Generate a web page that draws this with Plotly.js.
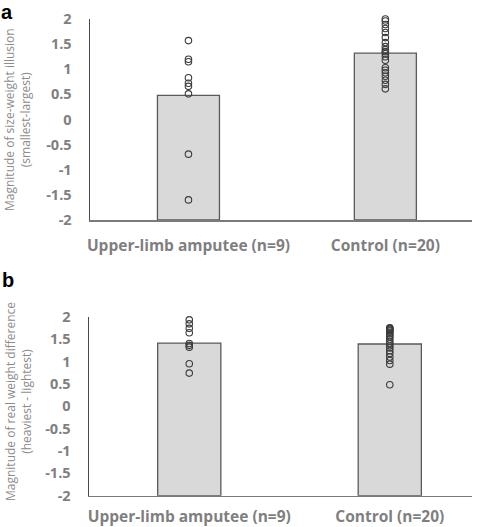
<!DOCTYPE html>
<html>
<head>
<meta charset="utf-8">
<script src="https://cdn.plot.ly/plotly-3.0.1.min.js"></script>
<style>
  html, body { margin: 0; padding: 0; background: #fff; }
  #chart { width: 479px; height: 527px; }
</style>
</head>
<body>
<div id="chart"></div>
<script>
// Groups shown on both panels
const groups = ["Upper-limb amputee (n=9)", "Control (n=20)"];

// Panel a: size-weight illusion (smallest - largest)
const illusionMeans = [0.48, 1.32];
const illusionAmputee = [1.57, 1.20, 1.15, 0.83, 0.72, 0.66, 0.51, -0.69, -1.60];
const illusionControl = [2.00, 1.96, 1.89, 1.81, 1.73, 1.63, 1.53, 1.45, 1.39, 1.35,
                         1.31, 1.25, 1.18, 1.03, 0.98, 0.93, 0.86, 0.78, 0.70, 0.61];

// Panel b: real weight difference (heaviest - lightest)
const weightMeans = [1.41, 1.39];
const weightAmputee = [1.93, 1.84, 1.74, 1.64, 1.40, 1.36, 1.32, 0.95, 0.74];
const weightControl = [1.75, 1.74, 1.72, 1.70, 1.68, 1.65, 1.62, 1.58, 1.55, 1.50,
                       1.45, 1.40, 1.35, 1.30, 1.24, 1.18, 1.10, 1.02, 0.94, 0.48];

const yTicks = [-2, -1.5, -1, -0.5, 0, 0.5, 1, 1.5, 2];
const yFloor = -2;   // bars rise from the bottom of the axis

const W = 479, H = 527;
const px = v => v / W;
const py = v => 1 - v / H;

function barTrace(means, xa, ya) {
  return {
    type: "bar",
    x: groups,
    base: yFloor,
    y: means.map(m => m - yFloor),
    width: 0.315,
    marker: { color: "#d9d9d9", line: { color: "#5a5a5a", width: 1.3 } },
    hoverinfo: "skip",
    showlegend: false,
    xaxis: xa, yaxis: ya
  };
}

function dotTrace(label, values, xa, ya) {
  return {
    type: "scatter",
    mode: "markers",
    x: values.map(() => label),
    y: values,
    marker: { symbol: "circle-open", size: 6.5, color: "#3c3c3c", line: { width: 1.1 } },
    cliponaxis: false,
    showlegend: false,
    xaxis: xa, yaxis: ya
  };
}

const traces = [
  barTrace(illusionMeans, "x", "y"),
  dotTrace(groups[0], illusionAmputee, "x", "y"),
  dotTrace(groups[1], illusionControl, "x", "y"),
  barTrace(weightMeans, "x2", "y2"),
  dotTrace(groups[0], weightAmputee, "x2", "y2"),
  dotTrace(groups[1], weightControl, "x2", "y2")
];

const tickFont = { family: "Open Sans, sans-serif", size: 14.5, color: "#7f7f7f", weight: 700 };
const catFont = { family: "Open Sans, sans-serif", size: 15.5, color: "#7f7f7f", weight: 700 };

function xAxis(domain, range, anchor, standoff) {
  return {
    domain: domain, range: range, anchor: anchor,
    type: "category",
    showline: true, linecolor: "#7a7a7a", linewidth: 1.5,
    ticks: "", showgrid: false, zeroline: false,
    tickfont: catFont, ticklabelstandoff: standoff,
    fixedrange: true
  };
}
function yAxis(domain, anchor) {
  return {
    domain: domain, anchor: anchor, range: [-2, 2],
    tickvals: yTicks, ticktext: yTicks.map(String),
    showline: true, linecolor: "#4a4a4a", linewidth: 1.5,
    ticks: "", showgrid: false, zeroline: false,
    tickfont: tickFont, ticklabelstandoff: 14,
    fixedrange: true
  };
}

const titleFont = { family: "Open Sans, sans-serif", size: 12, color: "#8c8c8c" };
const letterFont = { family: "Liberation Sans, Arial, sans-serif", size: 20, color: "#000" };

const layout = {
  width: W, height: H,
  margin: { l: 0, r: 0, t: 0, b: 0 },
  paper_bgcolor: "#ffffff", plot_bgcolor: "#ffffff",
  xaxis: xAxis([px(90), px(472)], [-0.5, 1.44], "y", 11),
  yaxis: yAxis([py(220), py(19)], "x"),
  xaxis2: xAxis([px(89), px(472)], [-0.5, 1.41], "y2", 6),
  yaxis2: yAxis([py(495.7), py(316.7)], "x2"),
  annotations: [
    { text: "<b>a</b>", x: px(0), y: 1, xref: "paper", yref: "paper",
      xanchor: "left", yanchor: "top", borderpad: 0, showarrow: false, font: letterFont },
    { text: "<b>b</b>", x: px(0), y: py(293), xref: "paper", yref: "paper",
      xanchor: "left", yanchor: "bottom", showarrow: false, font: letterFont },
    { text: "Magnitude of size-weight illusion<br>(smallest-largest)",
      x: px(18), y: py(120), xref: "paper", yref: "paper", textangle: -90,
      xanchor: "center", yanchor: "middle", showarrow: false, font: titleFont },
    { text: "Magnitude of real weight difference<br>(heaviest - lightest)",
      x: px(18), y: py(402), xref: "paper", yref: "paper", textangle: -90,
      xanchor: "center", yanchor: "middle", showarrow: false, font: titleFont }
  ]
};

Plotly.newPlot("chart", traces, layout, { staticPlot: true, displayModeBar: false });
</script>
</body>
</html>
